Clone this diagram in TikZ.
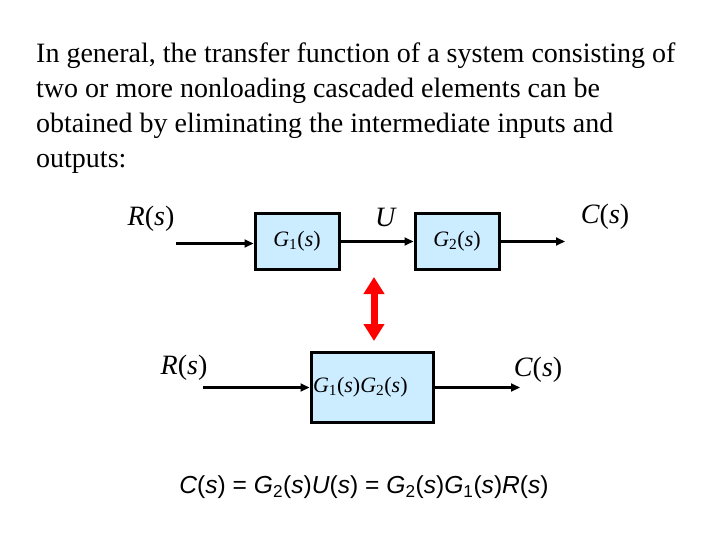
\documentclass[tikz,border=0pt]{standalone}
\usepackage{fontspec}
\setmainfont{Liberation Serif}
\newfontfamily\eqfont{Liberation Sans}
\usepackage{xcolor}
\usepackage{tikz}
\usetikzlibrary{shapes,arrows,arrows.meta}
\definecolor{bfill}{HTML}{CCECFF}
\definecolor{bred}{HTML}{FF0000}
\tikzstyle{tfblock} = [rectangle, draw, line width=3pt, fill=bfill, font=\fontsize{22}{26}\selectfont]
\tikzstyle{signal} = [inner sep=0pt, font=\fontsize{28}{32}\selectfont]
\tikzstyle{arrow} = [draw, -{Triangle[length=9pt,width=8pt]}, line width=2.2pt]
\tikzstyle{equiv} = [draw, bred, line width=7pt, {Triangle[length=17pt,width=20pt]}-{Triangle[length=17pt,width=20pt]}]
\newcommand{\sig}[1]{\textit{#1}(\textit{s})}
\newcommand{\tf}[1]{\textit{G}\textsubscript{#1}(\textit{s})}
\begin{document}
\begin{tikzpicture}[x=1pt, y=-1pt]
    \useasboundingbox (0,0) rectangle (720,540);
    % intro text
    \node[anchor=north west, inner sep=0pt, align=left, font=\fontsize{28}{35}\selectfont] at (36, 43) (intro)
        {In general, the transfer function of a system consisting of\\
         two or more nonloading cascaded elements can be\\
         obtained by eliminating the intermediate inputs and\\
         outputs:};

    % cascaded blocks
    \coordinate (in0) at (176, 243.5);
    \node[tfblock, minimum width=84pt, minimum height=55pt] at (297, 241.5) (g1) {\tf{1}};
    \node[tfblock, minimum width=84pt, minimum height=55pt] at (457, 241.5) (g2) {\tf{2}};
    \coordinate (out0) at (565, 241.5);
    \node[signal] at (151, 219) (r0) {\sig{R}};
    \node[signal] at (386, 217) (u0) {\textit{U}};
    \node[signal] at (605, 217) (c0) {\sig{C}};
    \path[arrow] (in0) -- (in0 -| g1.west);
    \path[arrow] (g1.east) -- (g2.west);
    \path[arrow] (g2.east) -- (out0);

    % equivalence
    \coordinate (eqtop) at (374, 277);
    \coordinate (eqbot) at (374, 341);
    \path[equiv] (eqtop) -- (eqbot);

    % single block
    \coordinate (in1) at (203, 387.5);
    \node[tfblock, text width=118pt, align=left, inner sep=2pt, minimum height=70pt] at (372, 387.5) (g12) {\tf{1}\tf{2}};
    \coordinate (out1) at (520, 387.5);
    \node[signal] at (184, 368) (r1) {\sig{R}};
    \node[signal] at (538, 370) (c1) {\sig{C}};
    \path[arrow] (in1) -- (g12.west);
    \path[arrow] (g12.east) -- (out1);

    % relation
    \node[inner sep=0pt, font=\eqfont\fontsize{24.6}{28}\selectfont] at (364, 487) (rel)
        {\textit{C}(\textit{s}) = \textit{G}\textsubscript{2}(\textit{s})\textit{U}(\textit{s}) = \textit{G}\textsubscript{2}(\textit{s})\textit{G}\textsubscript{1}(\textit{s})\textit{R}(\textit{s})};
\end{tikzpicture}
\end{document}
